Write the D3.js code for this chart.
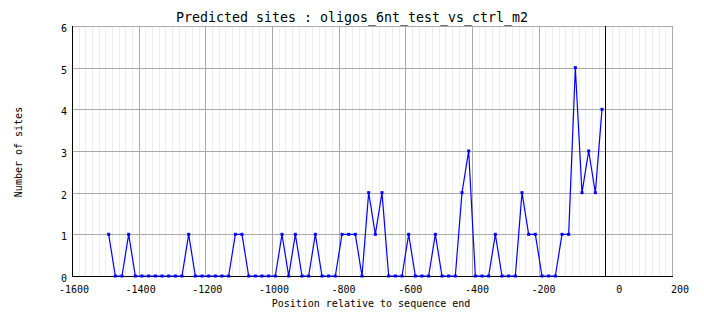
<!DOCTYPE html>
<html lang="en">
<head>
  <meta charset="UTF-8">
  <title>Predicted sites</title>
  <script src="https://d3js.org/d3.v7.min.js"></script>
</head>
<body style="margin: 0; padding: 0; overflow: hidden; background: #fff;">
  <svg id="chart"></svg>

  <script>
    // positions of the windows (relative to sequence end) and site counts
    const positions = [
      -1490, -1470, -1450, -1430, -1410, -1390, -1370, -1350, -1330, -1310,
      -1290, -1270, -1250, -1230, -1210, -1190, -1170, -1150, -1130, -1110,
      -1090, -1070, -1050, -1030, -1010, -990, -970, -950, -930, -910,
      -890, -870, -850, -830, -810, -790, -770, -750, -730, -710,
      -690, -670, -650, -630, -610, -590, -570, -550, -530, -510,
      -490, -470, -450, -430, -410, -390, -370, -350, -330, -310,
      -290, -270, -250, -230, -210, -190, -170, -150, -130, -110,
      -90, -70, -50, -30, -10
    ];
    const sites = [
      1, 0, 0, 1, 0, 0, 0, 0, 0, 0,
      0, 0, 1, 0, 0, 0, 0, 0, 0, 1,
      1, 0, 0, 0, 0, 0, 1, 0, 1, 0,
      0, 1, 0, 0, 0, 1, 1, 1, 0, 2,
      1, 2, 0, 0, 0, 1, 0, 0, 0, 1,
      0, 0, 0, 2, 3, 0, 0, 0, 1, 0,
      0, 0, 2, 1, 1, 0, 0, 0, 1, 1,
      5, 2, 3, 2, 4
    ];
    const xTicks = [-1600, -1400, -1200, -1000, -800, -600, -400, -200, 0, 200];
    const yTicks = [0, 1, 2, 3, 4, 5, 6];

    const W = 704, H = 328;
    const plotL = 72, plotR = 672, plotT = 26, plotB = 276;
    const mono = "'DejaVu Sans Mono', 'Liberation Mono', monospace";

    const svg = d3.select("#chart")
      .attr("width", W)
      .attr("height", H)
      .style("font-family", mono);

    const x = d3.scaleLinear().domain([-1600, 200]).range([plotL, plotR]);
    const y = d3.scaleLinear().domain([0, 6]).range([plotB, plotT]);
    const px = v => Math.round(x(v)) + 0.5;
    const py = v => Math.round(y(v)) + 0.5;

    const grid = svg.append("g");

    // light minor grid every 20 units
    grid.selectAll(".minor")
      .data(d3.range(-1580, 200, 20).filter(v => v % 200 !== 0))
      .enter()
      .append("line")
      .attr("x1", px).attr("x2", px)
      .attr("y1", plotT).attr("y2", plotB)
      .attr("stroke", "#ececec")
      .attr("stroke-width", 1);

    // major vertical grid
    grid.selectAll(".vmajor")
      .data(xTicks.filter(v => v !== -1600 && v !== 0))
      .enter()
      .append("line")
      .attr("x1", px).attr("x2", px)
      .attr("y1", plotT).attr("y2", plotB)
      .attr("stroke", "#aaaaaa");

    // horizontal grid
    grid.selectAll(".hmajor")
      .data(yTicks.filter(v => v !== 0))
      .enter()
      .append("line")
      .attr("x1", plotL).attr("x2", plotR + 1)
      .attr("y1", py).attr("y2", py)
      .attr("stroke", "#aaaaaa");

    // axes and zero line
    svg.append("line")
      .attr("x1", px(-1600)).attr("x2", px(-1600))
      .attr("y1", plotT).attr("y2", plotB + 1)
      .attr("stroke", "#000");
    svg.append("line")
      .attr("x1", plotL).attr("x2", plotR + 1)
      .attr("y1", py(0)).attr("y2", py(0))
      .attr("stroke", "#000");
    svg.append("line")
      .attr("x1", px(0)).attr("x2", px(0))
      .attr("y1", plotT).attr("y2", plotB)
      .attr("stroke", "#000");

    // tick labels
    svg.selectAll(".xlab")
      .data(xTicks)
      .enter()
      .append("text")
      .attr("x", d => x(d) + 17)
      .attr("y", 293)
      .attr("text-anchor", "end")
      .attr("font-size", "10px")
      .text(d => d);

    svg.selectAll(".ylab")
      .data(yTicks)
      .enter()
      .append("text")
      .attr("x", 67)
      .attr("y", d => y(d) + 6)
      .attr("text-anchor", "end")
      .attr("font-size", "10px")
      .text(d => d);

    // series
    const pts = positions.map((p, i) => ({ p: p, v: sites[i] }));
    const line = d3.line()
      .x(d => x(d.p))
      .y(d => y(d.v));

    svg.append("path")
      .datum(pts)
      .attr("d", line)
      .attr("fill", "none")
      .attr("stroke", "#0000ff")
      .attr("stroke-width", 1.2);

    svg.selectAll(".pt")
      .data(pts)
      .enter()
      .append("rect")
      .attr("x", d => x(d.p) - 1.5)
      .attr("y", d => y(d.v) - 1.5)
      .attr("width", 3)
      .attr("height", 3)
      .attr("fill", "#0000ff");

    // titles
    svg.append("text")
      .attr("x", 352)
      .attr("y", 22)
      .attr("text-anchor", "middle")
      .attr("font-size", "13.3px")
      .text("Predicted sites : oligos_6nt_test_vs_ctrl_m2");

    svg.append("text")
      .attr("x", 371)
      .attr("y", 307)
      .attr("text-anchor", "middle")
      .attr("font-size", "10px")
      .text("Position relative to sequence end");

    svg.append("text")
      .attr("transform", "translate(22,152) rotate(-90)")
      .attr("text-anchor", "middle")
      .attr("font-size", "10px")
      .text("Number of sites");
  </script>
</body>
</html>
